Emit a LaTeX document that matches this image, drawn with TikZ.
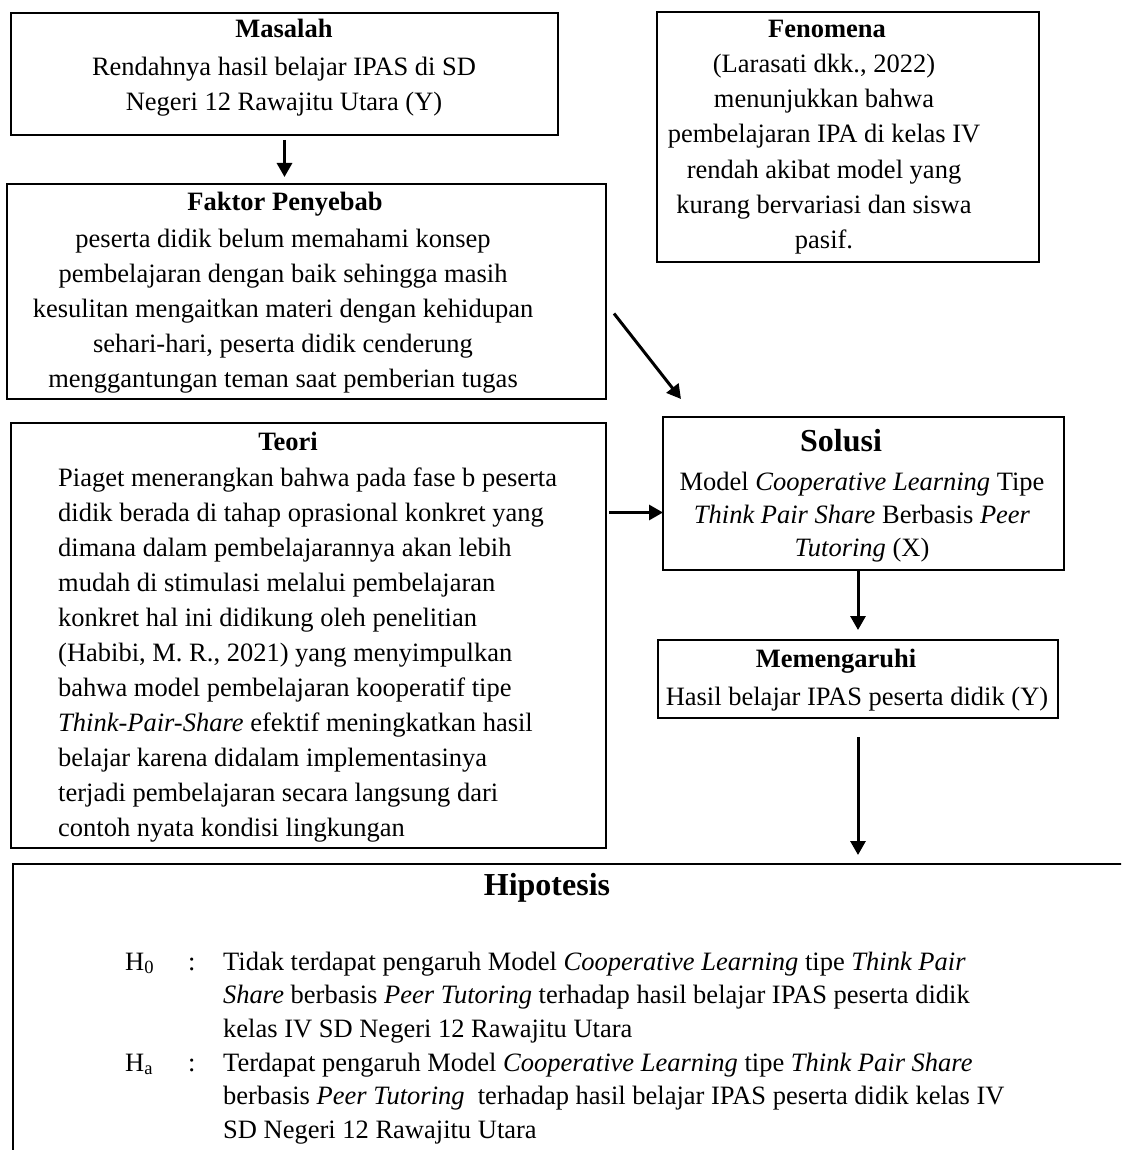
\documentclass[tikz,border=0pt]{standalone}
\usepackage{fontspec}
\setmainfont{Liberation Serif}
\usetikzlibrary{arrows.meta}

\tikzset{
	kotak/.style={draw, line width=2.6pt, inner sep=0pt, outer sep=0pt, anchor=north west},
	judul/.style={font=\bfseries\fontsize{26.5}{35}\selectfont, inner sep=0pt, anchor=base},
	judulbesar/.style={font=\bfseries\fontsize{32}{38}\selectfont, inner sep=0pt, anchor=base},
	isi/.style={font=\fontsize{26.5}{35}\selectfont, align=center, inner sep=0pt, anchor=base},
	panah/.style={line width=3pt, -{Triangle[width=15pt,length=14pt]}}
}

\begin{document}
\begin{tikzpicture}[x=1pt, y=1pt]
	\useasboundingbox (0,0) rectangle (1121,-1150);
	\clip (0,0) rectangle (1121,-1150);
	
	% kotak
	\node[kotak, minimum width=547pt, minimum height=122pt] (masalah) at (11,-13) {};
	\node[kotak, minimum width=599pt, minimum height=215pt] (faktor) at (7,-184) {};
	\node[kotak, minimum width=382pt, minimum height=250pt] (fenomena) at (657,-12) {};
	\node[kotak, minimum width=595pt, minimum height=425pt] (teori) at (11,-423) {};
	\node[kotak, minimum width=401pt, minimum height=153pt] (solusi) at (663,-417) {};
	\node[kotak, minimum width=400pt, minimum height=78pt] (pengaruh) at (658,-640) {};
	\node[kotak, minimum width=1200pt, minimum height=400pt] (hipotesis) at (13,-864) {};
	
	% teks (anchor base = baris terakhir)
	\node[judul] (tmasalah) at (284,-38) {Masalah};
	\node[isi] (imasalah) at (284,-111) {Rendahnya hasil belajar IPAS di SD\\Negeri 12 Rawajitu Utara (Y)};
	
	\node[judul] (tfaktor) at (285,-211) {Faktor Penyebab};
	\node[isi] (ifaktor) at (283,-387) {peserta didik belum memahami konsep\\
		pembelajaran dengan baik sehingga masih\\
		kesulitan mengaitkan materi dengan kehidupan\\
		sehari-hari, peserta didik cenderung\\
		menggantungan teman saat pemberian tugas};
	
	\node[judul] (tfenomena) at (827,-38) {Fenomena};
	\node[isi] (ifenomena) at (824,-248) {(Larasati dkk., 2022)\\
		menunjukkan bahwa\\
		pembelajaran IPA di kelas IV\\
		rendah akibat model yang\\
		kurang bervariasi dan siswa\\
		pasif.};
	
	\node[judul] (tteori) at (288,-450) {Teori};
	\node[isi, align=left, anchor=base west] (iteori) at (58,-836) {Piaget menerangkan bahwa pada fase b peserta\\
		didik berada di tahap oprasional konkret yang\\
		dimana dalam pembelajarannya akan lebih\\
		mudah di stimulasi melalui pembelajaran\\
		konkret hal ini didikung oleh penelitian\\
		(Habibi, M. R., 2021) yang menyimpulkan\\
		bahwa model pembelajaran kooperatif tipe\\
		\textit{Think-Pair-Share} efektif meningkatkan hasil\\
		belajar karena didalam implementasinya\\
		terjadi pembelajaran secara langsung dari\\
		contoh nyata kondisi lingkungan};
	
	\node[judulbesar] (tsolusi) at (841,-451) {Solusi};
	\node[isi, font=\fontsize{26.5}{33}\selectfont] (isolusi) at (862,-556) {Model \textit{Cooperative Learning} Tipe\\
		\textit{Think Pair Share} Berbasis \textit{Peer}\\
		\textit{Tutoring} (X)};
	
	\node[judul] (tpengaruh) at (836,-667) {Memengaruhi};
	\node[isi] (ipengaruh) at (857,-705) {Hasil belajar IPAS peserta didik (Y)};
	
	\node[judulbesar] (thipotesis) at (547,-895) {Hipotesis};
	\node[isi, anchor=base west] (hnol) at (125,-970) {H\textsubscript{0}};
	\node[isi, anchor=base west] (knol) at (188,-970) {:};
	\node[isi, align=left, anchor=base west, font=\fontsize{26.5}{33.5}\selectfont] (inol) at (223,-1037) {Tidak terdapat pengaruh Model \textit{Cooperative Learning} tipe \textit{Think Pair}\\
		\textit{Share} berbasis \textit{Peer Tutoring} terhadap hasil belajar IPAS peserta didik\\
		kelas IV SD Negeri 12 Rawajitu Utara};
	\node[isi, anchor=base west] (ha) at (125,-1071) {H\textsubscript{a}};
	\node[isi, anchor=base west] (ka) at (188,-1071) {:};
	\node[isi, align=left, anchor=base west, font=\fontsize{26.5}{33.5}\selectfont] (ia) at (223,-1138) {Terdapat pengaruh Model \textit{Cooperative Learning} tipe \textit{Think Pair Share}\\
		berbasis \textit{Peer Tutoring}\ \ terhadap hasil belajar IPAS peserta didik kelas IV\\
		SD Negeri 12 Rawajitu Utara};
	
	% panah
	\draw[panah, shorten <=5pt, shorten >=7pt] (masalah.south) -- (masalah.south |- faktor.north);
	\draw[panah] ([shift={(8pt,-22pt)}]faktor.east) -- ([shift={(18pt,18pt)}]solusi.north west);
	\draw[panah, shorten <=3pt] ([yshift=-19pt]solusi.west -| teori.east) -- ([yshift=-19pt]solusi.west);
	\draw[panah, shorten >=10pt] (solusi.south -| pengaruh.north) -- (pengaruh.north);
	\draw[panah, shorten <=19pt, shorten >=9pt] (pengaruh.south) -- (pengaruh.south |- hipotesis.north);
	
\end{tikzpicture}
\end{document}
